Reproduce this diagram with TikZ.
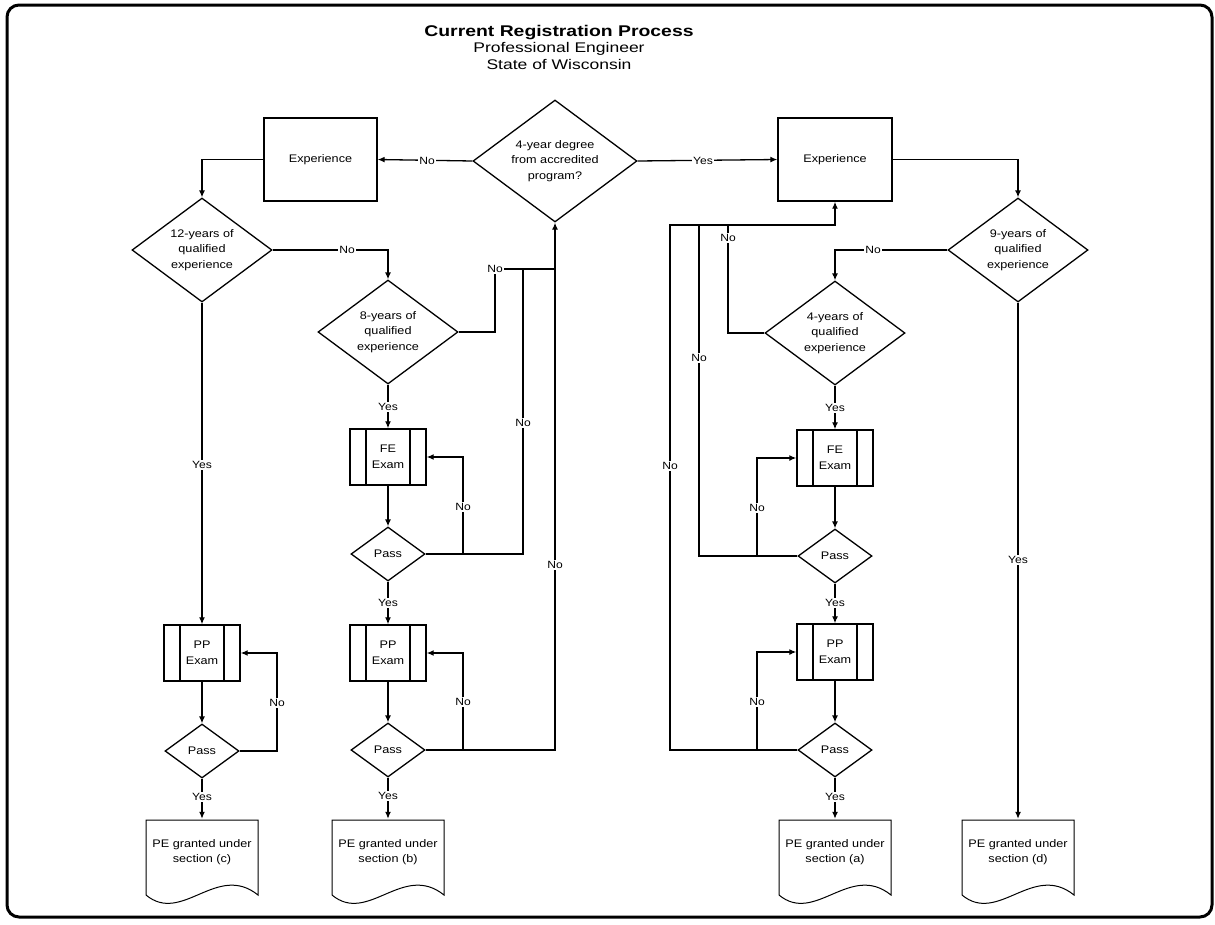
\documentclass[tikz,border=0pt]{standalone}
\usepackage{fontspec}
\setmainfont[FakeStretch=1.15]{Liberation Sans}
\newfontfamily\titlefont[FakeStretch=1.25]{Liberation Sans}
\usetikzlibrary{shapes.geometric,arrows.meta}
\newcommand{\docshape}[4]{%
  \node[minimum width=112pt,minimum height=78pt,inner sep=0pt] (#1) at (#2,858) {};
  \draw[docline] (#2-56,895) -- (#2-56,820) -- (#2+56,820) -- (#2+56,895)
     .. controls (#2+15,862) and (#2-20,925) .. cycle;
  \node (#1text) at (#2,852) {#3\\#4};}
\begin{document}
\begin{tikzpicture}[x=1pt,y=-1pt,
  every node/.style={font=\fontsize{11}{15.5}\selectfont, align=center},
  line/.style={line width=1.3pt},
  arr/.style={line width=1.3pt,-{Latex[length=7pt,width=6pt]}},
  docline/.style={line width=1pt},
  procbox/.style={draw,line width=1.4pt,minimum width=113pt,minimum height=83pt,inner sep=0pt},
  bigdia/.style={draw,diamond,line width=1.3pt,minimum width=140pt,minimum height=104pt,inner sep=0pt,shape aspect=1.35},
  passdia/.style={draw,diamond,line width=1.3pt,minimum width=74pt,minimum height=54pt,inner sep=0pt,shape aspect=1.37},
  exambox/.style={draw,line width=1.4pt,minimum width=76pt,minimum height=56pt,inner sep=0pt,
    path picture={
      \draw[line width=1.2pt] ([xshift=16pt]path picture bounding box.north west) -- ([xshift=16pt]path picture bounding box.south west);
      \draw[line width=1.2pt] ([xshift=-16pt]path picture bounding box.north east) -- ([xshift=-16pt]path picture bounding box.south east);}},
  lbl/.style={fill=white,inner sep=1pt,font=\fontsize{10.5}{12}\selectfont}
]
\fill[white] (0,0) rectangle (1215,924);
\useasboundingbox (0,0) rectangle (1215,924);
\draw[line width=3pt,rounded corners=12pt] (7,5) rectangle (1212,917);

% title
\node[font=\titlefont\fontsize{15.5}{18}\selectfont\bfseries] (title) at (559,33) {Current Registration Process};
\node[font=\titlefont\fontsize{14}{16}\selectfont] (sub1) at (559,49) {Professional Engineer};
\node[font=\titlefont\fontsize{14}{16}\selectfont] (sub2) at (559,64) {State of Wisconsin};

% top row
\node[bigdia,minimum width=164pt,minimum height=122pt,shape aspect=1.34] (deg) at (555,161) {4-year degree\\from accredited\\program?};
\node[procbox] (expL) at (320.5,159.5) {Experience};
\node[procbox,minimum width=114pt] (expR) at (835,159.5) {Experience};

% decisions
\node[bigdia] (y12) at (202,250) {12-years of\\qualified\\experience};
\node[bigdia] (y8) at (388,332) {8-years of\\qualified\\experience};
\node[bigdia] (y9) at (1018,250) {9-years of\\qualified\\experience};
\node[bigdia] (y4) at (835,333) {4-years of\\qualified\\experience};

% exams
\node[exambox] (ppL) at (202,653) {PP\\Exam};
\node[exambox] (feM) at (388,457) {FE\\Exam};
\node[exambox] (ppM) at (388,653) {PP\\Exam};
\node[exambox] (feR) at (835,458) {FE\\Exam};
\node[exambox] (ppR) at (835,652) {PP\\Exam};

% pass
\node[passdia] (pL) at (202,751) {Pass};
\node[passdia] (pM1) at (388,554) {Pass};
\node[passdia] (pM2) at (388,750) {Pass};
\node[passdia] (pR1) at (835,556) {Pass};
\node[passdia] (pR2) at (835,750) {Pass};

% documents
\docshape{dC}{202}{PE granted under}{section (c)}
\docshape{dB}{388}{PE granted under}{section (b)}
\docshape{dA}{835}{PE granted under}{section (a)}
\docshape{dD}{1018}{PE granted under}{section (d)}

% connectors
\draw[arr] (deg.west) -- (expL.east);
\draw[arr] (deg.east) -- (expR.west);
\draw[arr] (expL.west) -| (y12.north);
\draw[arr] (y12.east) -| (y8.north);
\draw[arr] (y12.south) -- (ppL.north);
\draw[arr] (ppL.south) -- (pL.north);
\draw[arr] (pL.east) -| (277,653) -- (ppL.east);
\draw[arr] (pL.south) -- (dC.north);

\draw[arr] (y8.south) -- (feM.north);
\draw[line] (y8.east) -| (495,269) -- (555,269);
\draw[arr] (feM.south) -- (pM1.north);
\draw[arr] (pM1.east) -| (463,457) -- (feM.east);
\draw[line] (pM1.east) -| (523,269);
\draw[arr] (pM1.south) -- (ppM.north);
\draw[arr] (ppM.south) -- (pM2.north);
\draw[arr] (pM2.east) -| (463,653) -- (ppM.east);
\draw[arr] (pM2.east) -| (deg.south);
\draw[arr] (pM2.south) -- (dB.north);

\draw[arr] (expR.east) -| (y9.north);
\draw[arr] (y9.west) -| (y4.north);
\draw[arr] (y9.south) -- (dD.north);
\draw[arr] (y4.south) -- (feR.north);
\draw[line] (y4.west) -| (728,225);
\draw[arr] (feR.south) -- (pR1.north);
\draw[arr] (pR1.west) -| (757,458) -- (feR.west);
\draw[line] (pR1.west) -| (699,225);
\draw[arr] (pR1.south) -- (ppR.north);
\draw[arr] (ppR.south) -- (pR2.north);
\draw[arr] (pR2.west) -| (757,652) -- (ppR.west);
\draw[arr] (pR2.west) -| (670,225) -| (expR.south);
\draw[arr] (pR2.south) -- (dA.north);

% labels
\node[lbl] at (427,161) {No};
\node[lbl] at (703,161) {Yes};
\node[lbl] at (347,250) {No};
\node[lbl] at (202,465) {Yes};
\node[lbl] at (277,703) {No};
\node[lbl] at (202,797) {Yes};
\node[lbl] at (388,407) {Yes};
\node[lbl] at (495,269) {No};
\node[lbl] at (463,507) {No};
\node[lbl] at (523,423) {No};
\node[lbl] at (388,603) {Yes};
\node[lbl] at (463,702) {No};
\node[lbl] at (555,565) {No};
\node[lbl] at (388,796) {Yes};
\node[lbl] at (873,250) {No};
\node[lbl] at (1018,560) {Yes};
\node[lbl] at (835,408) {Yes};
\node[lbl] at (728,238) {No};
\node[lbl] at (757,508) {No};
\node[lbl] at (699,358) {No};
\node[lbl] at (835,603) {Yes};
\node[lbl] at (757,702) {No};
\node[lbl] at (670,466) {No};
\node[lbl] at (835,797) {Yes};
\end{tikzpicture}
\end{document}
